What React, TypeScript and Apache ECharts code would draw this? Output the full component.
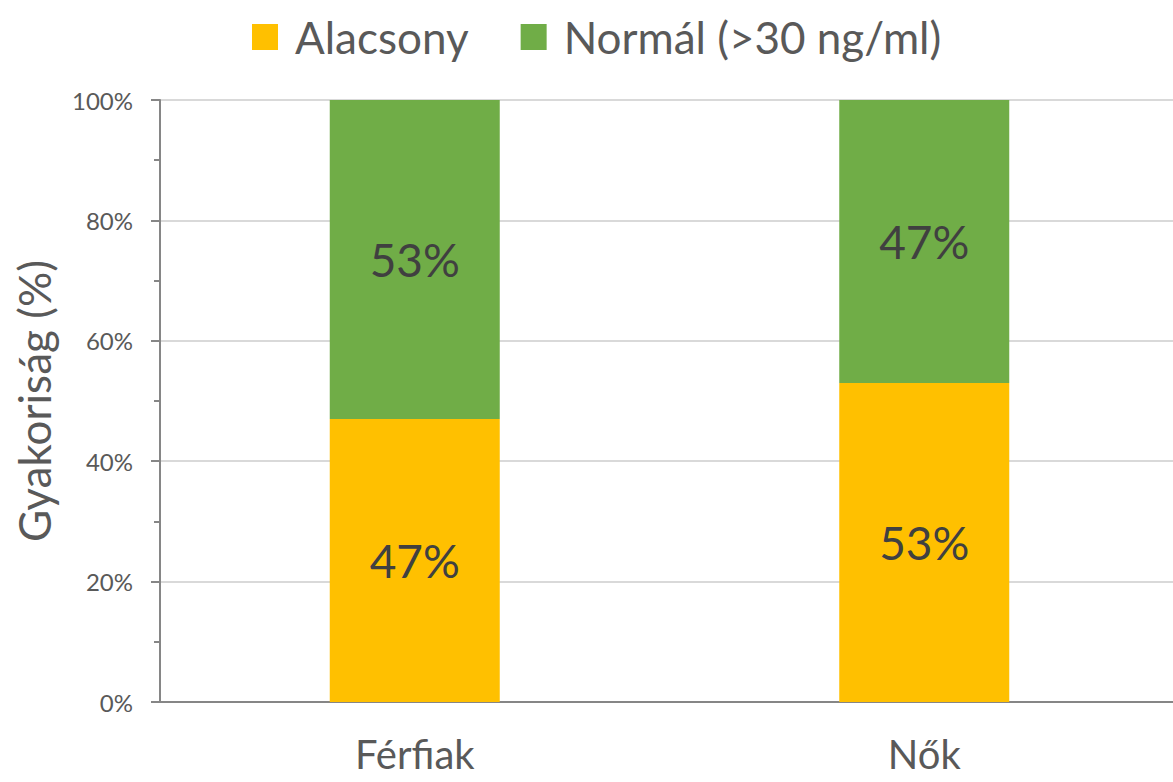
import React, { useEffect, useRef } from "react";
import * as echarts from "echarts";

const categories = ["Férfiak", "Nők"];
const seriesNames = ["Alacsony", "Normál (>30 ng/ml)"];
const lowValues = [47, 53];
const normalValues = [53, 47];
const yTicks = [0, 20, 40, 60, 80, 100];
const yAxisTitle = "Gyakoriság (%)";

const FONT = "Lato, 'Noto Sans', sans-serif";

export default function App() {
  const ref = useRef<HTMLDivElement>(null);
  useEffect(() => {
    document.body.style.margin = "0";
    const chart = echarts.init(ref.current!, null, { renderer: "svg" });
    chart.setOption({
      animation: false,
      textStyle: { fontFamily: FONT },
      legend: {
        left: 247,
        top: 10,
        itemWidth: 26,
        itemHeight: 26,
        itemGap: 52,
        icon: "rect",
        textStyle: { fontSize: 44, color: "#595959", fontFamily: FONT, padding: [0, 0, 0, 12] },
        data: seriesNames,
      },
      grid: { left: 160, right: -6, top: 100, bottom: 80, outerBoundsMode: "none", containLabel: false },
      xAxis: {
        type: "category",
        data: categories,
        axisLine: { lineStyle: { color: "#868686", width: 2 } },
        axisTick: { show: false },
        axisLabel: { fontSize: 40, color: "#595959", margin: 32, fontFamily: FONT },
      },
      yAxis: {
        type: "value",
        min: yTicks[0],
        max: yTicks[yTicks.length - 1],
        interval: 20,
        name: yAxisTitle,
        nameLocation: "middle",
        nameGap: 104,
        nameTextStyle: { fontSize: 44, color: "#595959", fontFamily: FONT },
        axisLine: { show: true, lineStyle: { color: "#868686", width: 2 } },
        axisTick: { show: true, length: 9, lineStyle: { color: "#868686", width: 2 } },
        minorTick: { show: true, splitNumber: 2, length: 6, lineStyle: { color: "#868686", width: 2 } },
        splitLine: { show: true, lineStyle: { color: "#D9D9D9", width: 2 } },
        axisLabel: {
          fontSize: 24,
          color: "#595959",
          margin: 27,
          fontFamily: FONT,
          formatter: (v: number) => v + "%",
        },
      },
      series: [
        {
          name: seriesNames[0],
          type: "bar",
          stack: "total",
          barWidth: 170,
          data: lowValues,
          itemStyle: { color: "#FFC000" },
          label: {
            show: true,
            position: "inside",
            fontSize: 46,
            color: "#404040",
            fontFamily: FONT,
            formatter: (p: any) => p.value + "%",
          },
        },
        {
          name: seriesNames[1],
          type: "bar",
          stack: "total",
          barWidth: 170,
          data: normalValues,
          itemStyle: { color: "#70AD47" },
          label: {
            show: true,
            position: "inside",
            fontSize: 46,
            color: "#404040",
            fontFamily: FONT,
            formatter: (p: any) => p.value + "%",
          },
        },
      ],
    });
    return () => chart.dispose();
  }, []);
  return <div ref={ref} style={{ width: 1173, height: 782, position: "absolute", left: 0, top: 0 }} />;
}
